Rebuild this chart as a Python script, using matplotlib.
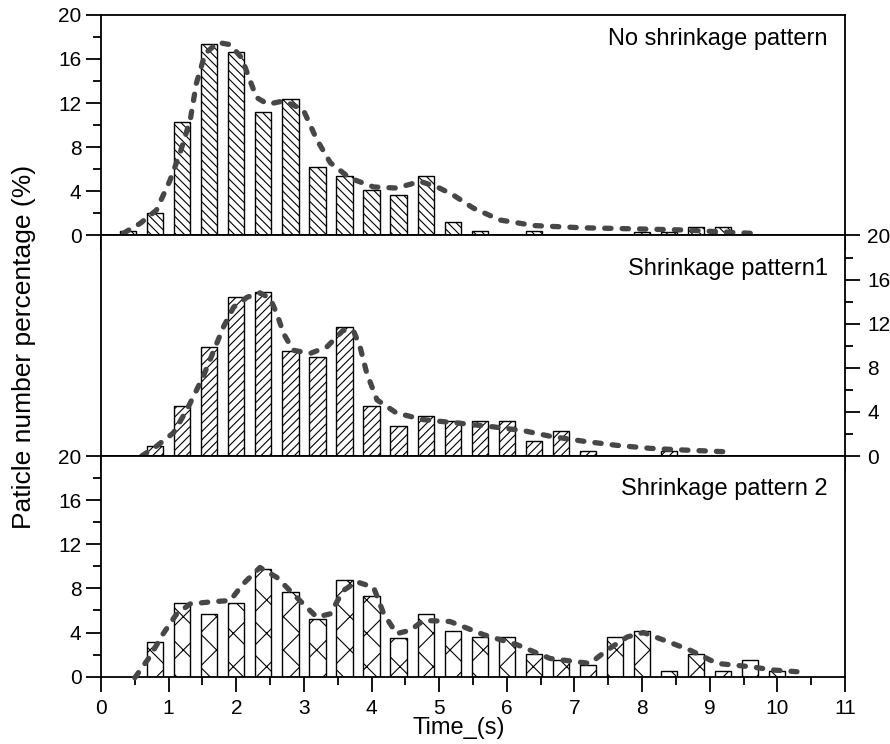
import matplotlib
matplotlib.use('Agg')
import matplotlib.pyplot as plt
from matplotlib.ticker import MultipleLocator

plt.rcParams['font.family'] = ['Liberation Sans', 'DejaVu Sans']
plt.rcParams['hatch.linewidth'] = 0.8

# bar data (bin centre in s, percentage)
top_x = [0.4, 0.8, 1.2, 1.6, 2.0, 2.4, 2.8, 3.2, 3.6, 4.0, 4.4, 4.8, 5.2, 5.6,
         6.4, 8.0, 8.4, 8.8, 9.2]
top_vals = [0.42, 2.0, 10.3, 17.4, 16.6, 11.2, 12.4, 6.2, 5.4, 4.1, 3.7, 5.4, 1.25, 0.42,
            0.42, 0.35, 0.35, 0.8, 0.8]

mid_x = [0.8, 1.2, 1.6, 2.0, 2.4, 2.8, 3.2, 3.6, 4.0, 4.4, 4.8, 5.2, 5.6, 6.0,
         6.4, 6.8, 7.2, 8.4]
mid_vals = [0.9, 4.5, 9.9, 14.4, 14.9, 9.5, 9.0, 11.7, 4.5, 2.7, 3.6, 3.2, 3.2, 3.2,
            1.35, 2.25, 0.45, 0.5]

bot_x = [0.8, 1.2, 1.6, 2.0, 2.4, 2.8, 3.2, 3.6, 4.0, 4.4, 4.8, 5.2, 5.6, 6.0,
         6.4, 6.8, 7.2, 7.6, 8.0, 8.4, 8.8, 9.2, 9.6, 10.0]
bot_vals = [3.1, 6.7, 5.7, 6.7, 9.8, 7.7, 5.2, 8.8, 7.3, 3.55, 5.7, 4.15, 3.6, 3.6,
            2.05, 1.5, 1.05, 3.6, 4.15, 0.5, 2.05, 0.5, 1.55, 0.5]

# smoothed distribution curves
top_curve_x = [0.33, 0.58, 0.82, 1.02, 1.17, 1.32, 1.41, 1.54, 1.73, 1.91, 2.08, 2.2, 2.3,
               2.47, 2.7, 2.99, 3.19, 3.39, 3.68, 4.03, 4.37, 4.72, 4.97, 5.2, 5.5, 5.9,
               6.4, 7.1, 7.9, 8.6, 9.1, 9.6]
top_curve_y = [0.2, 1.1, 2.3, 5.0, 7.5, 10.5, 13.8, 16.5, 17.5, 17.3, 16.1, 14.1, 12.5,
               11.9, 12.2, 11.4, 8.7, 6.6, 5.2, 4.4, 4.3, 4.9, 4.4, 3.7, 2.5, 1.4,
               0.9, 0.7, 0.6, 0.5, 0.35, 0.2]

mid_curve_x = [0.6, 0.82, 1.07, 1.27, 1.51, 1.69, 1.81, 1.96, 2.16, 2.35, 2.5, 2.6, 2.7,
               2.84, 3.09, 3.34, 3.58, 3.73, 3.83, 3.93, 4.08, 4.37, 4.77, 5.26, 5.8,
               6.25, 6.64, 7.13, 7.63, 8.12, 8.61, 9.2]
mid_curve_y = [0.0, 0.9, 2.1, 4.2, 7.2, 9.9, 11.7, 13.5, 14.4, 14.8, 14.3, 12.9, 11.1,
               9.6, 9.3, 9.9, 11.4, 11.4, 9.9, 7.5, 5.1, 3.9, 3.3, 3.0, 2.65,
               2.3, 1.8, 1.35, 0.97, 0.7, 0.55, 0.4]

bot_curve_x = [0.5, 0.72, 0.92, 1.12, 1.32, 1.66, 1.91, 2.1, 2.35, 2.6, 2.89, 3.19, 3.39,
               3.58, 3.78, 4.03, 4.18, 4.37, 4.57, 4.77, 5.16, 5.66, 6.15, 6.64, 7.23,
               7.48, 7.78, 8.02, 8.37, 8.71, 9.11, 9.6, 9.95, 10.29]
bot_curve_y = [-0.1, 1.8, 3.9, 5.7, 6.6, 6.8, 6.9, 8.4, 9.9, 9.0, 7.2, 5.4, 5.7,
               7.8, 8.6, 8.1, 5.7, 3.9, 4.2, 5.1, 5.0, 3.8, 2.9, 1.65, 1.2,
               2.4, 3.6, 4.0, 3.2, 2.4, 1.2, 0.9, 0.6, 0.45]

panel_titles = ['No shrinkage pattern', 'Shrinkage pattern1', 'Shrinkage pattern 2']
hatches = ['\\\\\\\\', '////', 'x']

fig, axes = plt.subplots(3, 1, sharex=True, figsize=(8.9, 7.44), dpi=100)
fig.subplots_adjust(left=0.1135, right=0.9494, top=0.98, bottom=0.0905, hspace=0)

panels = [(top_x, top_vals, top_curve_x, top_curve_y),
          (mid_x, mid_vals, mid_curve_x, mid_curve_y),
          (bot_x, bot_vals, bot_curve_x, bot_curve_y)]

for i, (ax, (bx, bv, cx, cy)) in enumerate(zip(axes, panels)):
    ax.bar(bx, bv, width=0.24, color='white', edgecolor='black', linewidth=1.0,
           hatch=hatches[i], zorder=2)
    ax.plot(cx, cy, color='#474747', linewidth=3.8, linestyle=(0, (1.2, 2.1)),
            dash_capstyle='round', solid_capstyle='round', zorder=3, clip_on=False)
    ax.set_xlim(0, 11)
    ax.set_ylim(0, 20)
    ax.text(0.977, 0.89 if i == 0 else 0.85, panel_titles[i], transform=ax.transAxes,
            ha='right', va='center', fontsize=17)

    for side in ['top', 'bottom', 'left', 'right']:
        ax.spines[side].set_linewidth(1.3)

    ax.xaxis.set_major_locator(MultipleLocator(1))
    ax.xaxis.set_minor_locator(MultipleLocator(0.5))
    ax.yaxis.set_major_locator(MultipleLocator(4))
    ax.yaxis.set_minor_locator(MultipleLocator(2))
    ax.tick_params(which='major', direction='out', length=11, width=1.3, labelsize=15)
    ax.tick_params(which='minor', direction='out', length=6, width=1.3)
    ax.tick_params(axis='x', which='both', top=False, bottom=True)
    ax.tick_params(axis='x', which='major', pad=5)

    if i == 1:
        # middle panel carries its scale on the right
        ax.tick_params(axis='y', which='both', left=False, labelleft=False,
                       right=True, labelright=True, pad=5)
    else:
        ax.tick_params(axis='y', which='both', left=True, labelleft=True,
                       right=False, labelright=False, pad=3)

fig.text(24 / 890, 0.534, 'Paticle number percentage (%)', rotation=90,
         ha='center', va='center', fontsize=19)
fig.text(0.515, 0.022, 'Time_(s)', ha='center', va='center', fontsize=17)

plt.savefig('out.png', dpi=100, facecolor='white')
